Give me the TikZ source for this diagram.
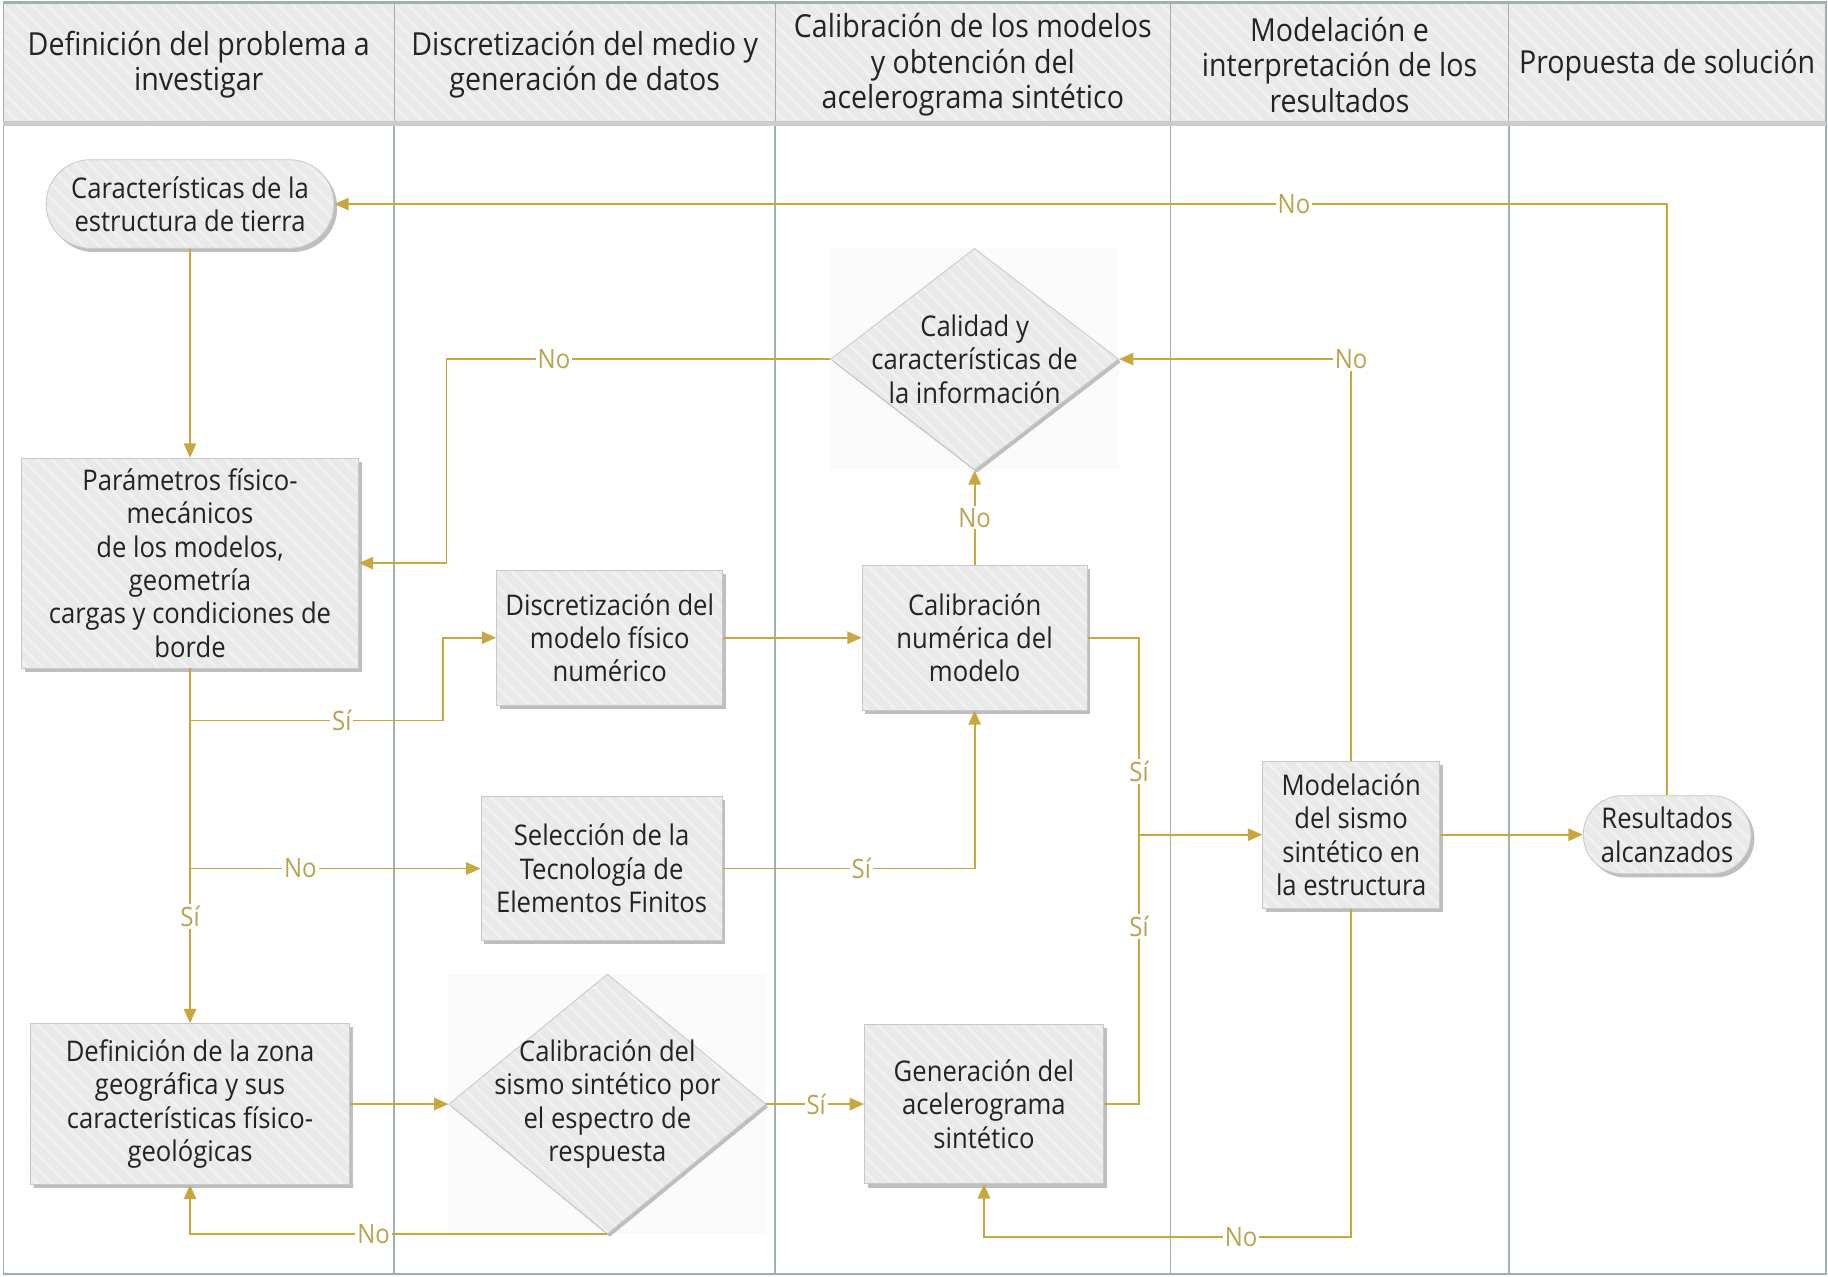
\documentclass[tikz,border=0pt]{standalone}
\usepackage{fontspec}
\setmainfont{Open Sans}[FakeStretch=0.9]
\usetikzlibrary{arrows.meta,shapes.geometric,shapes.misc,shadows,patterns.meta,backgrounds}

\definecolor{flowgold}{RGB}{200,168,62}
\definecolor{labelgold}{RGB}{188,162,78}
\definecolor{lanegray}{RGB}{160,176,176}
\definecolor{boxfill}{RGB}{233,233,233}
\definecolor{stripe}{RGB}{241,241,241}
\definecolor{boxline}{RGB}{200,200,200}
\definecolor{shadowgray}{RGB}{190,190,190}
\definecolor{txtdark}{RGB}{35,35,35}

\newcommand{\boxfont}{\fontsize{13.9}{16.3}\selectfont}
\newcommand{\headfont}{\fontsize{15.5}{17.4}\selectfont}
\newcommand{\lblfont}{\fontsize{13}{14}\selectfont}

\tikzset{
  hatched/.style={preaction={fill=boxfill}, pattern={Lines[angle=-45,distance=5pt,line width=1.2pt]}, pattern color=stripe},
  procbox/.style={rectangle, draw=boxline, drop shadow={shadow xshift=1.6pt, shadow yshift=-1.8pt, fill=shadowgray, opacity=1}, hatched, text=txtdark, align=center, font=\boxfont, inner sep=2pt},
  termbox/.style={procbox, rounded rectangle},
  decision/.style={diamond, draw=boxline, drop shadow={shadow xshift=1.2pt, shadow yshift=-1.4pt, fill=shadowgray, opacity=1}, hatched, inner sep=0pt},
  lanehead/.style={rectangle, draw=lanegray, hatched, minimum height=2.1cm, align=center, font=\headfont, text=txtdark, inner sep=0pt},
  laneline/.style={draw=lanegray, line width=0.9pt},
  flow/.style={draw=flowgold, line width=0.9pt, -{Triangle[length=7pt,width=6pt]}},
  link/.style={draw=flowgold, line width=0.9pt},
  lbl/.style={font=\lblfont, text=labelgold, fill=white, inner sep=1pt}
}

\begin{document}
\begin{tikzpicture}[x=0.02cm, y=-0.02cm]
  \useasboundingbox (0,0) rectangle (1568,1095);

  % lanes
  \draw[laneline] (3,2) rectangle (1566,1093);
  \foreach \x in {338,665,1004,1294}
    \draw[laneline] (\x,2) -- (\x,1093);

  % lane headers
  \node[lanehead, minimum width=6.7cm] (head1) at (170.5,55.5) {Definición del problema a\\investigar};
  \node[lanehead, minimum width=6.54cm] (head2) at (501.5,55.5) {Discretización del medio y\\generación de datos};
  \node[lanehead, minimum width=6.78cm] (head3) at (834.5,55.5) {Calibración de los modelos\\y obtención del\\acelerograma sintético};
  \node[lanehead, minimum width=5.8cm] (head4) at (1149,55.5) {Modelación e\\interpretación de los\\resultados};
  \node[lanehead, minimum width=5.44cm] (head5) at (1430,55.5) {Propuesta de solución};
  \fill[black!20] (3,104) rectangle (1566,108);

  % steps
  \node[termbox, minimum width=5.08cm, minimum height=1.52cm] (caract) at (163,175) {Características de la\\estructura de tierra};
  \node[procbox, minimum width=5.78cm, minimum height=3.6cm] (param) at (163,483) {Parámetros físico-\\mecánicos\\de los modelos,\\geometría\\cargas y condiciones de\\borde};
  \node[procbox, minimum width=3.88cm, minimum height=2.32cm] (discret) at (523,547) {Discretización del\\modelo físico\\numérico};
  \node[procbox, minimum width=3.86cm, minimum height=2.48cm] (calib) at (836,547) {Calibración\\numérica del\\modelo};
  \node[decision, minimum width=4.94cm, minimum height=3.8cm,
        label={[align=center, font=\boxfont, text=txtdark]center:Calidad y\\características de\\la información}] (calidad) at (836,308) {};
  \node[procbox, minimum width=4.14cm, minimum height=2.48cm] (selec) at (516,745) {Selección de la\\Tecnología de\\Elementos Finitos};
  \node[procbox, minimum width=5.48cm, minimum height=2.76cm] (defzona) at (163,947) {Definición de la zona\\geográfica y sus\\características físico-\\geológicas};
  \node[decision, minimum width=5.44cm, minimum height=4.46cm,
        label={[align=center, font=\boxfont, text=txtdark]center:Calibración del\\sismo sintético por\\el espectro de\\respuesta}] (sismo) at (521,947) {};
  \node[procbox, minimum width=4.1cm, minimum height=2.74cm] (gener) at (844,947) {Generación del\\acelerograma\\sintético};
  \node[procbox, minimum width=3.04cm, minimum height=2.52cm] (model) at (1159,716) {Modelación\\del sismo\\sintético en\\la estructura};
  \node[termbox, minimum width=3.02cm, minimum height=1.34cm] (result) at (1430,716) {Resultados\\alcanzados};

  \begin{scope}[on background layer]
    \fill[black!1.5] (calidad.west |- calidad.north) rectangle (calidad.east |- calidad.south);
    \fill[black!1.5] (sismo.west |- sismo.north) rectangle (sismo.east |- sismo.south);
  \end{scope}

  % junctions
  \coordinate (kCal) at (383,308);
  \coordinate (jSi) at (163,618);
  \coordinate (kSi) at (380,618);
  \coordinate (jNo) at (163,745);
  \coordinate (jM) at (977,716);
  \coordinate (kGen) at (1159,1061);

  % connectors
  \draw[flow] (result.north) |- node[lbl, pos=0.64] (noTop) {No} (caract.east);
  \draw[flow] (caract) -- (param);
  \draw[flow] (calidad.west) -- node[lbl, pos=0.72] (noCal) {No} (kCal) |- (param.east);
  \draw[flow] (model.north) |- node[lbl, pos=0.5] (noMod) {No} (calidad.east);
  \draw[flow] (param.south) -- node[lbl, pos=0.70] (siDef) {Sí} (defzona.north);
  \draw[flow] (jSi) -- node[lbl, pos=0.6] (siDis) {Sí} (kSi) |- (discret.west);
  \draw[flow] (jNo) -- node[lbl, pos=0.38] (noSel) {No} (selec.west);
  \draw[flow] (discret) -- (calib);
  \draw[flow] (calib) -- node[lbl] (noCalib) {No} (calidad);
  \draw[flow] (selec.east) -| node[lbl, pos=0.275] (siSel) {Sí} (calib.south);
  \draw[link] (calib.east) -| node[lbl, pos=0.84] (siCal) {Sí} (jM);
  \draw[link] (gener.east) -| node[lbl, pos=0.83] (siGen) {Sí} (jM);
  \draw[flow] (jM) -- (model.west);
  \draw[flow] (defzona) -- (sismo);
  \draw[flow] (sismo.east) -- node[lbl, pos=0.51] (siSis) {Sí} (gener.west);
  \draw[flow] (sismo.south) -| node[lbl, pos=0.28] (noSis) {No} (defzona.south);
  \draw[flow] (model.south) -- (kGen) -| node[lbl, pos=0.15] (noGen) {No} (gener.south);
  \draw[flow] (model) -- (result);
\end{tikzpicture}
\end{document}
